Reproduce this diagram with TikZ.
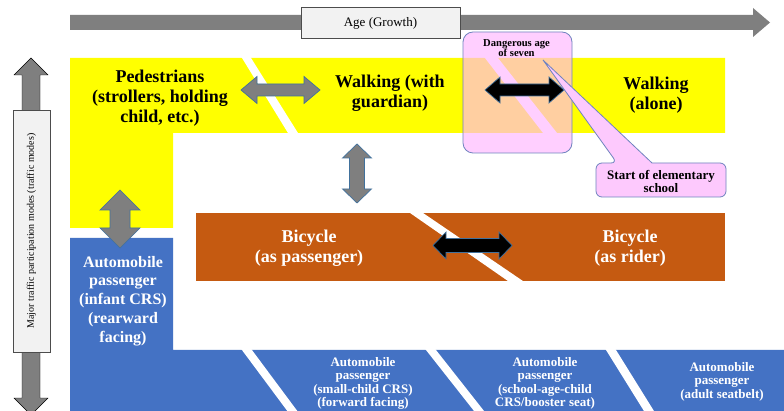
\documentclass[tikz,border=0pt]{standalone}
\usepackage{fontspec}
\setmainfont{Liberation Serif}
\definecolor{ylw}{HTML}{FFFF00}
\definecolor{blu}{HTML}{4472C4}
\definecolor{org}{HTML}{C55A11}
\definecolor{gry}{HTML}{7F7F7F}
\definecolor{edg}{HTML}{41719C}
\definecolor{pnk}{HTML}{FFB4FF}
\definecolor{pnkc}{HTML}{FDC9FD}
\definecolor{pedge}{HTML}{6F83BF}
\definecolor{lbox}{HTML}{F2F2F2}
\newcommand{\hdblarrow}[7]{\draw[#1] (#2,#4) -- ({#2+#7},{#4-#6}) -- ({#2+#7},{#4-#5}) -- ({#3-#7},{#4-#5}) -- ({#3-#7},{#4-#6}) -- (#3,#4) -- ({#3-#7},{#4+#6}) -- ({#3-#7},{#4+#5}) -- ({#2+#7},{#4+#5}) -- ({#2+#7},{#4+#6}) -- cycle;}
\newcommand{\vdblarrow}[7]{\draw[#1] (#4,#2) -- ({#4-#6},{#2+#7}) -- ({#4-#5},{#2+#7}) -- ({#4-#5},{#3-#7}) -- ({#4-#6},{#3-#7}) -- (#4,#3) -- ({#4+#6},{#3-#7}) -- ({#4+#5},{#3-#7}) -- ({#4+#5},{#2+#7}) -- ({#4+#6},{#2+#7}) -- cycle;}
\tikzset{
  stripe/.style={fill=white},
  grayarrow/.style={fill=gry, draw=edg, line width=0.7pt, line join=miter},
  blackarrow/.style={fill=black, draw=edg, line width=0.7pt, line join=miter},
  bigtext/.style={font=\bfseries\fontsize{18}{20}\selectfont, align=center, inner sep=0pt},
  midtext/.style={font=\bfseries\fontsize{16}{18.8}\selectfont, align=center, inner sep=0pt, text=white},
  smalltext/.style={font=\bfseries\fontsize{13}{13.4}\selectfont, align=center, inner sep=0pt, text=white},
  labelbox/.style={fill=lbox, draw=black!70, line width=0.7pt},
  pinkbox/.style={fill=pnk, fill opacity=0.63, draw=pedge, draw opacity=1, line width=0.8pt, rounded corners=10pt},
  callout/.style={fill=pnkc, draw=pedge, line width=0.8pt},
}
\begin{document}
\begin{tikzpicture}[x=1pt, y=-1pt]
\clip (0,0) rectangle (784,411);
\fill[white] (0,0) rectangle (784,411);
% top age arrow
\fill[gry] (70,15) -- (753,15) -- (753,8) -- (770,22.5) -- (753,37) -- (753,30) -- (70,30) -- cycle;
\draw[labelbox] (301,7) rectangle (460,38);
\node[font=\fontsize{13}{14}\selectfont, inner sep=0pt] (age) at (380.5,23) {Age (Growth)};
% left vertical arrow
\vdblarrow{fill=gry}{58}{415}{31}{9}{17}{17}
\draw[labelbox] (13,110) rectangle (50,352);
\node[font=\fontsize{10}{11}\selectfont, rotate=90, inner sep=0pt] (modes) at (31.5,231) {Major traffic participation modes (traffic modes)};
% regions
\fill[ylw] (70,58) -- (725,58) -- (725,133) -- (173,133) -- (173,228) -- (70,228) -- cycle;
\fill[blu] (70,238) -- (173,238) -- (173,350) -- (784,350) -- (784,415) -- (70,415) -- cycle;
\fill[org] (196,213) rectangle (725,281);
% stripes
\fill[stripe] (241.4,57) -- (250.4,57) -- (298.6,134) -- (288.6,134) -- cycle;
\fill[stripe] (484.2,57) -- (497.2,57) -- (557.8,134) -- (543.8,134) -- cycle;
\fill[stripe] (408.6,212) -- (421.6,212) -- (524.4,282) -- (509.4,282) -- cycle;
\fill[stripe] (241.2,349) -- (251.2,349) -- (298.8,413) -- (288.8,413) -- cycle;
\fill[stripe] (425.2,349) -- (435.2,349) -- (485.6,413) -- (475.6,413) -- cycle;
\fill[stripe] (605.4,349) -- (615.4,349) -- (655.2,413) -- (645.2,413) -- cycle;
% texts
\node[bigtext] (ped) at (160,98.5) {Pedestrians\\(strollers, holding\\child, etc.)};
\node[bigtext] (guard) at (390,93) {Walking (with\\guardian)};
\node[bigtext] (alone) at (656,95) {Walking\\(alone)};
\node[bigtext, text=white] (bpass) at (309,248.5) {Bicycle\\(as passenger)};
\node[bigtext, text=white] (bride) at (630,248.5) {Bicycle\\(as rider)};
\node[midtext] (infant) at (123,301) {Automobile\\passenger\\(infant CRS)\\(rearward\\facing)};
\node[smalltext] (small) at (363,383.5) {Automobile\\passenger\\(small-child CRS)\\(forward facing)};
\node[smalltext] (school) at (545,383.5) {Automobile\\passenger\\(school-age-child\\CRS/booster seat)};
\node[smalltext] (adult) at (722,381.5) {Automobile\\passenger\\(adult seatbelt)};
% gray arrows
\hdblarrow{grayarrow}{241}{320}{90}{6}{13.5}{16}
\vdblarrow{grayarrow}{190}{248}{120}{10}{20}{20}
\vdblarrow{grayarrow}{144}{203}{357}{7.5}{14.5}{14}
% pink box
\draw[pinkbox] (463,32) rectangle (572,153);
\node[font=\bfseries\fontsize{10.6}{10.2}\selectfont, align=center, inner sep=0pt] (danger) at (516.5,48) {Dangerous age\\of seven};
% black arrows
\hdblarrow{blackarrow}{485}{564}{90}{6}{13}{15}
\hdblarrow{blackarrow}{433}{512}{245.5}{7}{13.5}{13}
% callout
\draw[callout] (596,180) [rounded corners=6pt] |- (617,163) [sharp corners] -- (543,60) -- (652,163) [rounded corners=6pt] -| (726,197) -| (596,180) -- cycle;
\node[font=\bfseries\fontsize{13}{13}\selectfont, align=center, inner sep=0pt] (school7) at (661,181.5) {Start of elementary\\school};
\end{tikzpicture}
\end{document}
